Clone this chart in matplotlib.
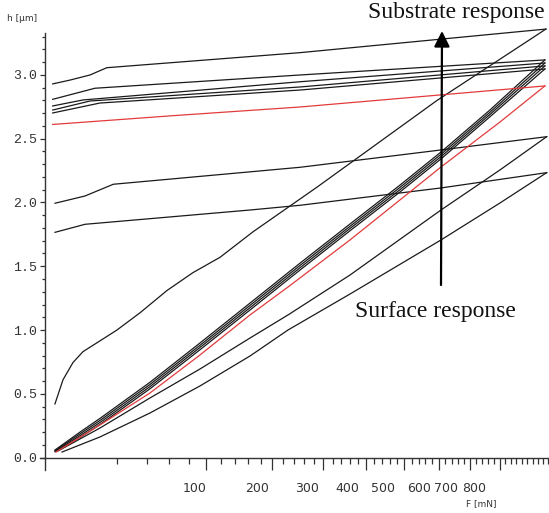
import numpy as np
import matplotlib
matplotlib.use("Agg")
import matplotlib.pyplot as plt
from matplotlib.ticker import FixedLocator
from matplotlib.transforms import ScaledTranslation

# ---------------- data (F in mN, h in µm) ----------------
# curve 1 (top, concave loading)
c1_load_F = [0.39, 1.27, 3.05, 5.6, 10.5, 20.1, 35.0, 57.7, 84.8, 118.6, 167.5, 286.3, 594.6, 971]
c1_load_h = [0.42, 0.61, 0.745, 0.83, 0.90, 1.00, 1.135, 1.31, 1.45, 1.57, 1.77, 2.12, 2.80, 3.36]
c1_unload_F = [971, 251.6, 14.8, 7.87, 2.44, 0.235]
c1_unload_h = [3.36, 3.175, 3.057, 3.0, 2.96, 2.93]

# bundle of four black curves
bundle_load_F = [0.4, 4.8, 12, 43, 93, 163, 252, 360, 488, 607, 766, 967]
c2_load_h = [0.059, 0.200, 0.310, 0.592, 0.898, 1.212, 1.525, 1.831, 2.137, 2.396, 2.725, 3.118]
c3_load_h = [0.055, 0.186, 0.294, 0.575, 0.880, 1.194, 1.507, 1.813, 2.119, 2.378, 2.707, 3.094]
c4_load_h = [0.050, 0.172, 0.278, 0.558, 0.863, 1.176, 1.489, 1.796, 2.101, 2.360, 2.690, 3.071]
c5_load_h = [0.045, 0.158, 0.262, 0.541, 0.845, 1.158, 1.471, 1.778, 2.083, 2.342, 2.672, 3.047]
c2_unload_F = [967, 252, 9.7, 0.235]
c2_unload_h = [3.118, 3.0, 2.896, 2.809]
c3_unload_F = [967, 252, 5.6, 0.235]
c3_unload_h = [3.094, 2.947, 2.804, 2.757]
c4_unload_F = [967, 252, 7.9, 0.235]
c4_unload_h = [3.071, 2.906, 2.796, 2.725]
c5_unload_F = [967, 252, 11.7, 0.235]
c5_unload_h = [3.047, 2.882, 2.780, 2.702]

# red curve
red_load_F = [0.48, 11.7, 42.7, 93, 162.7, 228.6, 360, 487.7, 606.8, 801, 967]
red_load_h = [0.043, 0.255, 0.506, 0.804, 1.118, 1.337, 1.706, 2.02, 2.278, 2.631, 2.914]
red_unload_F = [967, 252, 65.5, 0.235]
red_unload_h = [2.914, 2.749, 2.682, 2.612]

# lower curve A
a_load_F = [0.66, 11.7, 42.7, 93, 162.7, 228.6, 360, 606.8, 801, 974]
a_load_h = [0.051, 0.231, 0.467, 0.694, 0.937, 1.118, 1.431, 1.941, 2.255, 2.516]
a_unload_F = [974, 606.8, 251.7, 18.1, 6.22, 0.394]
a_unload_h = [2.516, 2.412, 2.276, 2.143, 2.051, 1.994]

# lowest curve B
b_load_F = [1.13, 11.7, 42.7, 93, 162.7, 228.6, 360, 606.8, 801, 974]
b_load_h = [0.043, 0.161, 0.349, 0.561, 0.796, 1.0, 1.282, 1.706, 1.996, 2.234]
b_unload_F = [974, 606.8, 251.7, 162.7, 6.22, 0.394]
b_unload_h = [2.234, 2.114, 1.978, 1.941, 1.829, 1.766]

x_major_ticks = [100, 200, 300, 400, 500, 600, 700, 800]
x_tick_labels = ["100", "200", "300", "400", "500", "600", "700", "800"]
y_major_ticks = [0.0, 0.5, 1.0, 1.5, 2.0, 2.5, 3.0]
y_tick_labels = ["0.0", "0.5", "1.0", "1.5", "2.0", "2.5", "3.0"]

# ---------------- figure ----------------
W, H = 549, 513
fig = plt.figure(figsize=(W / 100, H / 100), dpi=100)
x0 = 44.9 / W
ax = fig.add_axes([x0, 0.0833, 1 - x0, 0.8824])
ax.set_xscale("function",
              functions=(lambda x: np.sqrt(np.clip(x, 0, None)), lambda y: np.square(y)))
ax.set_xlim(0, 983)
ax.set_ylim(-0.1, 3.45)

blk = "#1a1a1a"
red = "#e23b3b"
lw = 0.9

black_curves = [
    (c1_load_F, c1_load_h, c1_unload_F, c1_unload_h),
    (bundle_load_F, c2_load_h, c2_unload_F, c2_unload_h),
    (bundle_load_F, c3_load_h, c3_unload_F, c3_unload_h),
    (bundle_load_F, c4_load_h, c4_unload_F, c4_unload_h),
    (bundle_load_F, c5_load_h, c5_unload_F, c5_unload_h),
    (a_load_F, a_load_h, a_unload_F, a_unload_h),
    (b_load_F, b_load_h, b_unload_F, b_unload_h),
]
for lf, lh, uf, uh in black_curves:
    ax.plot(lf, lh, color=blk, lw=lw)
    ax.plot(uf, uh, color=blk, lw=lw)
ax.plot(red_load_F, red_load_h, color=red, lw=lw)
ax.plot(red_unload_F, red_unload_h, color=red, lw=lw)

# spines
for s in ("top", "right"):
    ax.spines[s].set_visible(False)
ax.spines["bottom"].set_position(("data", 0))
ax.spines["left"].set_bounds(-0.1, 3.33)
for s in ("bottom", "left"):
    ax.spines[s].set_color("#333333")
    ax.spines[s].set_linewidth(1.0)
# short stub of the x axis line left of the y axis
fig.add_artist(plt.Line2D([40 / W, 45 / W], [1 - 457.5 / H, 1 - 457.5 / H],
                          color="#333333", lw=1.0))

# x ticks
ax.set_xticks(x_major_ticks)
ax.set_xticklabels(x_tick_labels, fontsize=9, family="DejaVu Sans", color="#333333")
ax.xaxis.set_minor_locator(FixedLocator(list(range(20, 990, 20))))
ax.tick_params(axis="x", which="major", length=8.6, width=0.9, direction="out", pad=9, colors="#333333")
ax.tick_params(axis="x", which="minor", length=4.3, width=0.9, direction="out", colors="#333333")
label_shift_px = [-11, -15, -16, -19.5, -21, -20, -24.5, -25.5]
for lab, dx in zip(ax.get_xticklabels(), label_shift_px):
    lab.set_transform(lab.get_transform() + ScaledTranslation(dx / 100, 0, fig.dpi_scale_trans))

# y ticks
ax.set_yticks(y_major_ticks)
ax.set_yticklabels(y_tick_labels, fontsize=9.5, family="Liberation Mono", color="#333333")
ax.yaxis.set_minor_locator(FixedLocator([i / 10 for i in range(0, 34)]))
ax.tick_params(axis="y", which="major", length=3.6, width=0.9, direction="out", pad=2, colors="#333333")
ax.tick_params(axis="y", which="minor", length=2.2, width=0.9, direction="out", colors="#333333")

# axis titles
fig.text(22.5 / W, 1 - 18.5 / H, "h [µm]", fontsize=6.5, family="DejaVu Sans",
         ha="center", va="center", color="#333333")
fig.text(481.5 / W, 1 - 503.5 / H, "F [mN]", fontsize=6.5, family="DejaVu Sans",
         ha="center", va="center", color="#333333")

# annotations
fig.text(368 / W, 1 - 18 / H, "Substrate response", fontsize=17, family="Liberation Serif",
         ha="left", va="baseline", color="#111111")
fig.text(355 / W, 1 - 317 / H, "Surface response", fontsize=17, family="Liberation Serif",
         ha="left", va="baseline", color="#111111")
ax.annotate("", xy=(442 / W, 1 - 31 / H), xytext=(441 / W, 1 - 285 / H),
            xycoords="figure fraction", textcoords="figure fraction",
            arrowprops=dict(arrowstyle="-|>,head_length=0.94,head_width=0.47",
                            mutation_scale=10, lw=1.6, color="black",
                            shrinkA=0, shrinkB=0))

fig.savefig("out.png", dpi=100)
